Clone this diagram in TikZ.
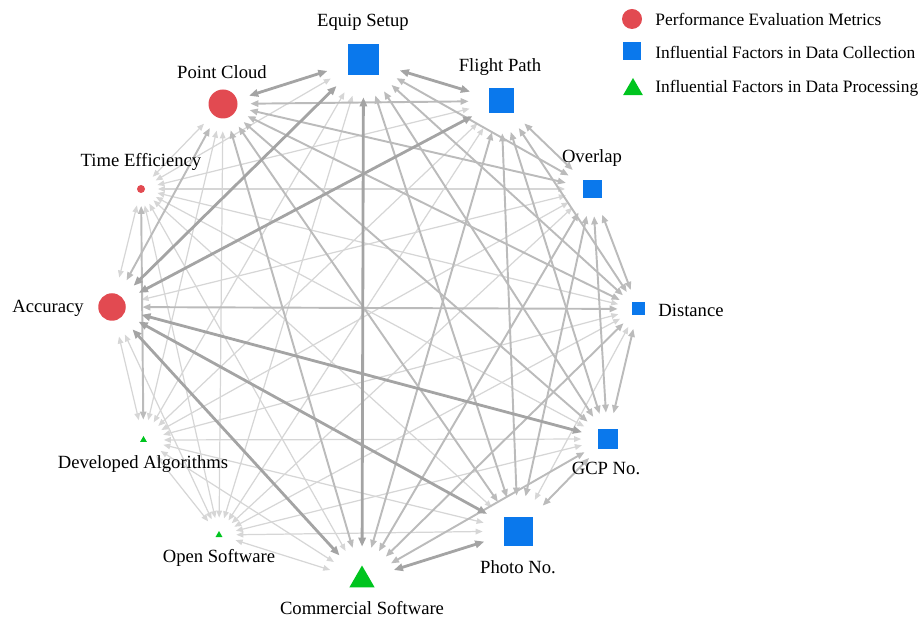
\documentclass[tikz,border=0pt]{standalone}
\usepackage{fontspec}
\setmainfont{Liberation Serif}
\usetikzlibrary{arrows.meta,shapes.geometric}

\definecolor{metricred}{HTML}{E24A51}
\definecolor{collectblue}{HTML}{0A78EC}
\definecolor{processgreen}{HTML}{00C41F}
\definecolor{edgelight}{HTML}{D6D6D6}
\definecolor{edgemid}{HTML}{BBBBBB}
\definecolor{edgedark}{HTML}{A4A4A4}

\tikzset{
  hub/.style={circle, inner sep=0pt},
  metric/.style={circle, fill=metricred, inner sep=0pt},
  collect/.style={rectangle, fill=collectblue, inner sep=0pt},
  process/.style={regular polygon, regular polygon sides=3, fill=processgreen, inner sep=0pt},
  lbl/.style={font=\fontsize{10.6}{12.7}\selectfont, inner sep=0pt},
  keylbl/.style={font=\fontsize{9.9}{12}\selectfont, inner sep=0pt, anchor=west},
  wlight/.style={draw=edgelight, line width=0.7pt,
    arrows={Triangle[length=4pt,width=3.2pt]-Triangle[length=4pt,width=3.2pt]}},
  wmid/.style={draw=edgemid, line width=1.1pt,
    arrows={Triangle[length=4.6pt,width=3.6pt]-Triangle[length=4.6pt,width=3.6pt]}},
  wdark/.style={draw=edgedark, line width=1.6pt,
    arrows={Triangle[length=5.2pt,width=4.2pt]-Triangle[length=5.2pt,width=4.2pt]}}
}

\begin{document}
\begin{tikzpicture}
    \useasboundingbox (0,0) rectangle (18.42,12.44);

    % Hubs (where the arrows end)
    \node[hub, minimum size=1.50cm] (es) at (7.27,11.25) {};
    \node[hub, minimum size=1.28cm] (fp) at (10.02,10.42) {};
    \node[hub, minimum size=1.08cm] (ov) at (11.85,8.66) {};
    \node[hub, minimum size=0.80cm] (di) at (12.76,6.26) {};
    \node[hub, minimum size=1.04cm] (gcp) at (12.15,3.66) {};
    \node[hub, minimum size=1.40cm] (pn) at (10.36,1.82) {};
    \node[hub, minimum size=1.32cm] (cs) at (7.24,0.84) {};
    \node[hub, minimum size=0.68cm] (os) at (4.38,1.74) {};
    \node[hub, minimum size=0.80cm] (da) at (2.87,3.64) {};
    \node[hub, minimum size=1.20cm] (acc) at (2.24,6.30) {};
    \node[hub, minimum size=0.66cm] (te) at (2.82,8.66) {};
    \node[hub, minimum size=1.08cm] (pc) at (4.46,10.36) {};

    % Edges, light ones first
    \foreach \a/\b in {es/os, es/da, es/te, fp/os, fp/da, fp/te,
        ov/os, ov/da, ov/te, ov/acc, di/os, di/da, di/te, di/pn,
        gcp/os, gcp/da, gcp/te, pn/os, pn/da, pn/te,
        cs/os, cs/da, cs/te, os/da, os/acc, os/te, os/pc,
        da/acc, da/pc, acc/te, te/pc}
        \draw[wlight] (\a) -- (\b);
    \foreach \a/\b in {es/ov, es/di, es/gcp, es/pn, fp/ov, fp/di, fp/gcp,
        fp/pn, fp/cs, fp/pc, ov/di, ov/gcp, ov/pn, ov/cs, ov/pc,
        di/gcp, di/cs, di/acc, di/pc, gcp/pn, gcp/cs, gcp/pc,
        pn/pc, cs/pc, acc/pc, te/da}
        \draw[wmid] (\a) -- (\b);
    \foreach \a/\b in {es/fp, es/cs, es/pc, es/acc, acc/gcp, acc/pn,
        acc/cs, acc/fp, pn/cs}
        \draw[wdark] (\a) -- (\b);

    % Glyphs
    \node[collect, minimum size=0.62cm] (es-g) at (es) {};
    \node[collect, minimum size=0.50cm] (fp-g) at (fp) {};
    \node[collect, minimum size=0.37cm] (ov-g) at (ov) {};
    \node[collect, minimum size=0.26cm] (di-g) at (di) {};
    \node[collect, minimum size=0.40cm] (gcp-g) at (gcp) {};
    \node[collect, minimum size=0.58cm] (pn-g) at (pn) {};
    \node[process, minimum size=0.58cm] (cs-g) at (cs) {};
    \node[process, minimum size=0.16cm] (os-g) at (os) {};
    \node[process, minimum size=0.16cm] (da-g) at (da) {};
    \node[metric, minimum size=0.55cm] (acc-g) at (acc) {};
    \node[metric, minimum size=0.16cm] (te-g) at (te) {};
    \node[metric, minimum size=0.58cm] (pc-g) at (pc) {};

    % Labels
    \node[lbl] (es-t) at (7.26,12.00) {Equip Setup};
    \node[lbl] (fp-t) at (10.00,11.10) {Flight Path};
    \node[lbl] (ov-t) at (11.84,9.28) {Overlap};
    \node[lbl] (di-t) at (13.82,6.24) {Distance};
    \node[lbl] (gcp-t) at (12.12,3.08) {GCP No.};
    \node[lbl] (pn-t) at (10.36,1.10) {Photo No.};
    \node[lbl] (cs-t) at (7.24,0.28) {Commercial Software};
    \node[lbl] (os-t) at (4.38,1.28) {Open Software};
    \node[lbl] (da-t) at (2.86,3.16) {Developed Algorithms};
    \node[lbl] (acc-t) at (0.96,6.28) {Accuracy};
    \node[lbl] (te-t) at (2.82,9.20) {Time Efficiency};
    \node[lbl] (pc-t) at (4.44,11.00) {Point Cloud};

    % Legend
    \node[metric, minimum size=0.40cm] (key-m) at (12.64,12.06) {};
    \node[keylbl] (key-mt) at (13.10,12.06) {Performance Evaluation Metrics};
    \node[collect, minimum size=0.37cm] (key-c) at (12.64,11.42) {};
    \node[keylbl] (key-ct) at (13.10,11.40) {Influential Factors in Data Collection};
    \node[process, minimum size=0.46cm] (key-p) at (12.66,10.65) {};
    \node[keylbl] (key-pt) at (13.10,10.68) {Influential Factors in Data Processing};
\end{tikzpicture}
\end{document}
